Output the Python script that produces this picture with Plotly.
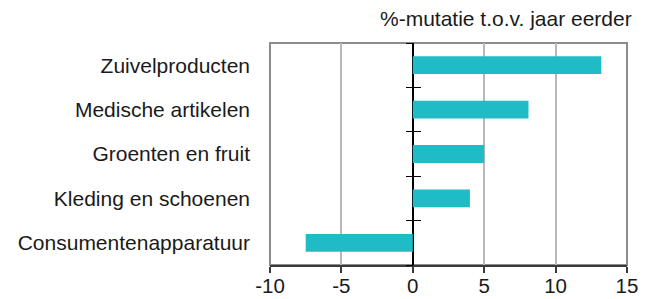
import plotly.graph_objects as go

categories = ["Zuivelproducten", "Medische artikelen", "Groenten en fruit",
              "Kleding en schoenen", "Consumentenapparatuur"]
values = [13.2, 8.1, 5.0, 4.0, -7.5]
x_ticks = [-10, -5, 0, 5, 10, 15]
x_range = [-10, 15]
title_text = "%-mutatie t.o.v. jaar eerder"

FONT = "Liberation Sans, Arial, sans-serif"
n = len(categories)
boundaries = [i - 0.5 for i in range(n + 1)]
zero_pos = (0 - x_range[0]) / (x_range[1] - x_range[0])

fig = go.Figure()
fig.add_trace(go.Bar(
    x=values, y=categories, orientation="h",
    marker=dict(color="#1FBCC6", line=dict(width=0)),
    width=0.4, showlegend=False,
))

common_overlay = dict(
    overlaying="y", anchor="free", position=zero_pos,
    range=[n - 0.5, -0.5], tickvals=boundaries, showticklabels=False,
    showgrid=False, zeroline=False, showline=False,
    ticklen=7, tickwidth=1.2, tickcolor="black",
)

fig.update_layout(
    width=649, height=299,
    margin=dict(l=270, r=22, t=43, b=34),
    paper_bgcolor="white", plot_bgcolor="white",
    font=dict(family=FONT, size=21, color="#1a1a1a"),
    bargap=0.6,
    xaxis=dict(
        range=x_range, tickvals=x_ticks, ticktext=[str(t) for t in x_ticks],
        showgrid=True, gridcolor="#B8B8B8", gridwidth=2,
        zeroline=True, zerolinecolor="black", zerolinewidth=1.5,
        showline=True, linecolor="#3a3a3a", linewidth=1.5,
        ticks="outside", ticklen=6, tickwidth=1.5, tickcolor="#3a3a3a",
        tickfont=dict(size=20.5), fixedrange=True, automargin=False,
        ticklabelstandoff=-4,
    ),
    yaxis=dict(
        categoryorder="array", categoryarray=categories,
        range=[n - 0.5, -0.5], automargin=False,
        showgrid=False, zeroline=False, showline=False,
        ticks="", ticklabelstandoff=19, tickfont=dict(size=21),
    ),
    yaxis2=dict(ticks="outside", **common_overlay),
    yaxis3=dict(ticks="inside", **common_overlay),
    shapes=[dict(type="rect", xref="paper", yref="paper", x0=0, x1=1, y0=0, y1=1,
                 line=dict(color="#8C8C8C", width=2), layer="below")],
    annotations=[dict(text=title_text, xref="paper", yref="paper", x=1, y=1,
                      xanchor="right", yanchor="bottom", xshift=7, yshift=11,
                      showarrow=False, font=dict(size=21, color="#1a1a1a"))],
)
fig.add_trace(go.Scatter(x=[None], y=[None], yaxis="y2", showlegend=False))
fig.add_trace(go.Scatter(x=[None], y=[None], yaxis="y3", showlegend=False))

fig.write_html("out.html", config={"displayModeBar": False},
               post_script="document.body.style.margin='0';document.body.style.overflow='hidden';")
